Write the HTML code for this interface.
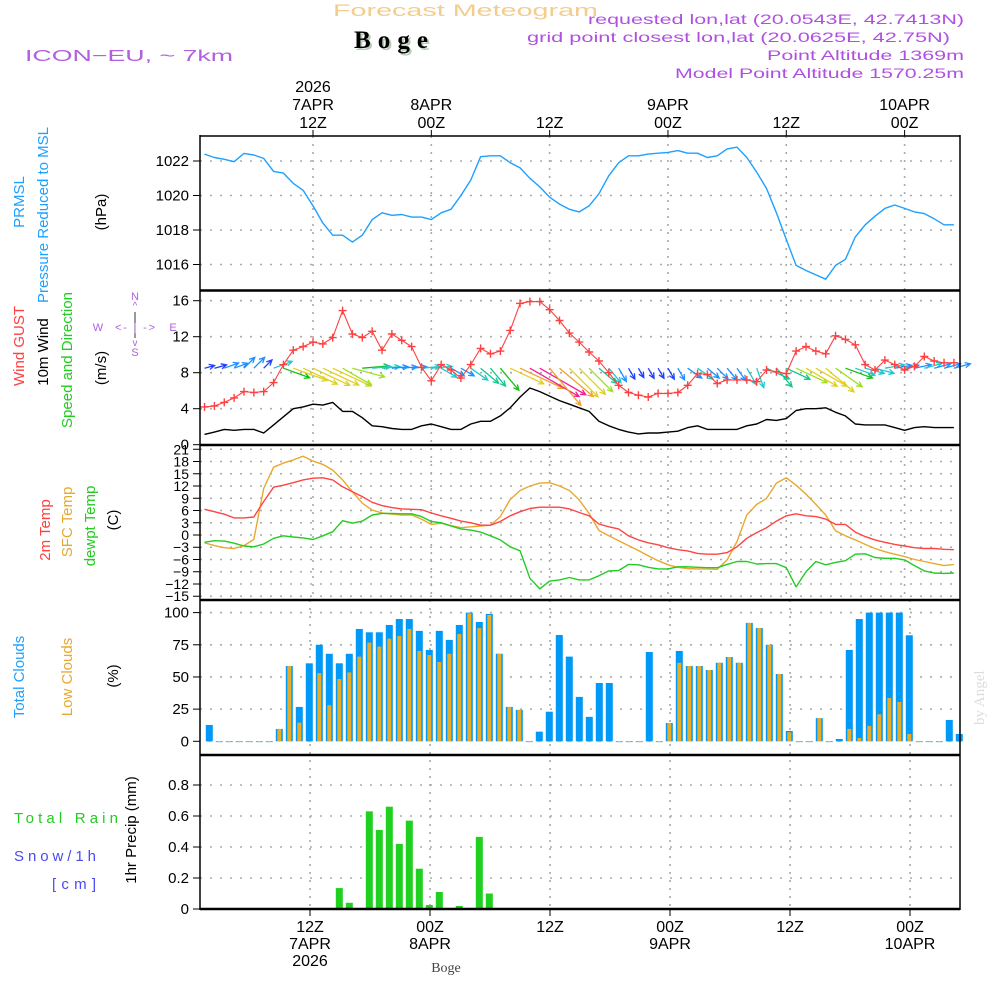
<!DOCTYPE html>
<html><head><meta charset="utf-8"><title>Forecast Meteogram Boge</title>
<style>
html,body{margin:0;padding:0;background:#fff;}
svg{display:block;font-family:"Liberation Sans","DejaVu Sans",sans-serif;}
</style></head>
<body>
<svg id="chart" xmlns="http://www.w3.org/2000/svg" width="1000" height="1000" viewBox="0 0 1000 1000">
<rect x="0" y="0" width="1000" height="1000" fill="#fff"/>
<text x="333" y="16" font-size="17" fill="#f3cd8c" textLength="265" lengthAdjust="spacingAndGlyphs">Forecast Meteogram</text>
<text x="356" y="50" font-size="25" font-weight="bold" font-family="Liberation Serif, serif" fill="#b8cdb8" textLength="74">Boge</text>
<text x="354" y="48" font-size="25" font-weight="bold" font-family="Liberation Serif, serif" fill="#000" textLength="74">Boge</text>
<text x="25" y="61" font-size="16" fill="#b060e0" textLength="208" lengthAdjust="spacingAndGlyphs">ICON−EU, ~ 7km</text>
<text x="588" y="24" font-size="14" fill="#b050e0" textLength="376" lengthAdjust="spacingAndGlyphs">requested lon,lat (20.0543E, 42.7413N)</text>
<text x="527" y="42" font-size="14" fill="#b050e0" textLength="423" lengthAdjust="spacingAndGlyphs">grid point closest lon,lat (20.0625E, 42.75N)</text>
<text x="767" y="60" font-size="14" fill="#b050e0" textLength="197" lengthAdjust="spacingAndGlyphs">Point Altitude 1369m</text>
<text x="675" y="78" font-size="14" fill="#b050e0" textLength="289" lengthAdjust="spacingAndGlyphs">Model Point Altitude 1570.25m</text>
<text transform="translate(984,725) rotate(-90)" font-size="15" font-family="Liberation Serif, serif" fill="#dcdcdc">by Angel</text>
<g id="g-grid"></g>
<g id="g-data"></g>
<g id="g-frame"></g>
<g id="g-labels"></g>
</svg>
<script>
// ===== DATA =====
const hours = [1,2,3,4,5,6,7,8,9,10,11,12,13,14,15,16,17,18,19,20,21,22,23,24,25,26,27,28,29,30,31,32,33,34,35,36,37,38,39,40,41,42,43,44,45,46,47,48,49,50,51,52,53,54,55,56,57,58,59,60,61,62,63,64,65,66,67,68,69,70,71,72,73,74,75,76,77];
const pressure = [1022.4,1022.2,1022.1,1021.96,1022.44,1022.35,1022.15,1021.4,1021.3,1020.7,1020.3,1019.4,1018.4,1017.7,1017.7,1017.3,1017.7,1018.6,1019.0,1018.85,1018.9,1018.75,1018.75,1018.6,1019.0,1019.2,1020.0,1020.9,1022.25,1022.3,1022.3,1021.9,1021.6,1021.0,1020.5,1019.9,1019.5,1019.2,1019.05,1019.4,1020.1,1021.15,1021.9,1022.3,1022.3,1022.4,1022.45,1022.5,1022.6,1022.45,1022.45,1022.2,1022.3,1022.7,1022.8,1022.2,1021.35,1020.4,1019.0,1017.45,1015.95,1015.65,1015.4,1015.15,1015.95,1016.3,1017.6,1018.3,1018.8,1019.25,1019.45,1019.25,1019.05,1018.95,1018.65,1018.3,1018.3];
const gust = [4.2,4.3,4.7,5.2,5.9,5.8,5.9,6.9,8.9,10.5,10.9,11.4,11.2,11.9,14.9,12.3,11.9,12.6,10.5,12.3,11.6,10.9,8.6,7.1,8.9,8.3,7.4,8.9,10.7,10.1,10.4,12.7,15.7,15.9,15.9,15.0,13.8,12.4,11.4,10.3,9.3,8.0,6.6,5.8,5.5,5.3,5.7,5.7,5.8,6.6,7.9,7.8,6.8,7.2,7.2,7.2,7.0,8.3,8.1,7.9,10.4,10.9,10.4,10.1,12.1,11.7,11.1,8.9,8.3,9.4,8.9,8.3,8.7,9.8,9.3,9.1,9.1];
const windSpeed = [1.15,1.4,1.7,1.6,1.7,1.7,1.3,2.2,3.1,4.0,4.2,4.5,4.4,4.7,3.7,3.7,3.0,2.1,2.0,1.8,1.7,1.7,2.1,2.3,2.0,1.7,1.7,2.3,2.6,2.6,3.2,4.1,5.3,6.3,5.9,5.4,4.9,4.5,4.1,3.7,2.6,2.1,1.7,1.4,1.2,1.3,1.3,1.4,1.5,1.9,2.1,1.7,1.7,1.7,1.7,2.1,2.3,2.8,2.7,2.9,3.8,4.0,4.0,4.1,3.6,3.2,2.3,2.2,2.2,2.2,1.9,1.6,1.9,2.0,1.9,1.9,1.9];
// screen angle the arrow points to (deg, 0 = east, positive = clockwise/down)
const windToAngle = [-15,-15,-20,-20,-45,-45,-45,-20,20,20,25,25,25,25,30,15,-5,-5,-5,-5,-5,-5,-5,-5,30,30,30,35,40,50,50,25,25,30,30,50,40,45,45,45,40,50,60,60,60,60,60,60,60,35,35,40,45,50,55,60,70,25,50,25,25,30,30,40,35,20,20,15,15,-10,-10,-12,-12,-15,-15,-15,-15];
const temp2m = [6.3,5.7,5.1,4.2,4.2,4.4,8.2,11.7,12.2,12.8,13.5,13.9,14.0,13.5,11.8,10.6,9.4,8.0,7.2,6.7,6.4,6.3,6.2,5.4,4.7,4.1,3.4,3.0,2.4,2.4,3.3,4.7,5.7,6.5,6.8,6.8,6.8,6.4,5.5,4.7,2.7,2.0,1.5,-0.2,-1.2,-1.9,-2.4,-3.1,-3.6,-3.9,-4.5,-4.7,-4.7,-4.3,-2.9,-0.8,0.6,1.8,3.4,4.7,5.2,4.7,4.5,3.9,2.6,2.6,0.7,-0.4,-1.2,-1.8,-2.3,-2.7,-3.1,-3.3,-3.3,-3.5,-3.6];
const tempSfc = [-1.9,-2.6,-3.1,-3.3,-2.6,-1.1,11.4,16.6,17.6,18.4,19.3,18.1,17.3,15.9,13.5,10.6,7.8,6.1,5.4,5.1,4.9,4.9,3.9,2.6,2.9,2.3,1.8,2.0,2.2,2.4,4.5,8.7,10.9,12.0,12.7,12.8,12.0,10.9,8.6,5.3,1.1,-0.2,-1.4,-2.6,-3.8,-5.1,-6.3,-7.3,-7.9,-8.2,-8.3,-8.3,-8.4,-6.1,-1.6,4.9,7.5,9.0,12.7,14.0,12.2,10.0,7.5,4.9,1.0,-0.2,-1.2,-2.3,-3.3,-4.1,-4.7,-5.3,-6.0,-6.5,-7.0,-7.5,-7.2];
const dewpoint = [-1.8,-1.4,-1.5,-2.0,-2.7,-2.9,-2.2,-0.8,-0.2,-0.5,-0.7,-1.1,-0.2,0.8,3.5,2.9,3.4,4.9,5.3,5.3,5.2,5.2,4.5,3.3,3.0,2.2,1.5,1.2,0.7,-0.2,-1.2,-2.9,-3.9,-10.6,-13.2,-11.3,-11.0,-10.4,-11.0,-11.0,-10.0,-8.8,-8.7,-7.2,-7.3,-7.9,-8.3,-8.3,-7.8,-7.8,-7.9,-8.0,-8.0,-7.2,-6.5,-6.5,-7.1,-7.0,-7.0,-8.0,-12.7,-9.0,-6.5,-7.3,-6.7,-6.3,-4.7,-4.6,-5.5,-5.7,-5.7,-6.1,-7.5,-8.8,-9.3,-9.4,-9.3];
const barSlots = [1,2,3,4,5,6,7,8,9,10,11,12,13,14,15,16,17,18,19,20,21,22,23,24,25,26,27,28,29,30,31,32,33,34,35,36,37,38,39,40,41,42,43,44,45,46,47,48,49,50,51,52,53,54,55,56,57,58,59,60,61,62,63,64,65,66,67,68,69,70,71,72,73,74,75,76];
const totalClouds = [12.7,0,0,0,0,0,0,9.6,58.5,26.7,60.6,75,68,60.6,68,87.3,84.7,84.7,90.4,95,95,85.8,71,85.8,78.8,90.4,100,92.7,99,68,26.7,24.4,0,7.5,23,82.6,65.8,34.5,19,45.3,45.3,0,0,0,69.4,0,14.2,70.2,58.5,58.5,55.4,61,65.5,61,92,88,75,52.3,8,0,0,18,0,1.8,71,95,100,100,100,100,82.4,0,0,0,16.6,5.7];
const lowClouds = [0,0,0,0,0,0,0,9.6,58.5,14.5,0,53,28,48.4,53.5,65.8,76.7,73.6,79.8,81.9,87.3,70.2,67,61.6,68,83.4,99.5,88.1,98.2,68,26.7,24.4,0,0,0,0,0,0,0,0,0,0,0,0,0,0,14.2,61,58.5,58.5,55.4,61,65.5,61,92,88,75,52.3,7,0,0,18,0,0,9.6,2.6,12,21,33.7,30.6,5.7,0,0,0,0,0];
const precip = [0,0,0,0,0,0,0,0,0,0,0,0,0,0.135,0.04,0.006,0.63,0.51,0.66,0.42,0.57,0.26,0.026,0.11,0.006,0.02,0.006,0.465,0.10,0,0,0,0,0,0,0,0,0,0,0,0,0,0,0,0,0,0,0,0,0,0,0,0,0,0,0,0,0,0,0,0,0,0,0,0,0,0,0,0,0,0,0,0,0,0,0];
const pressureTicks = [1016,1018,1020,1022];
const windTicks = [0,4,8,12,16];
const tempTicks = [21,18,15,12,9,6,3,0,-3,-6,-9,-12,-15];
const cloudTicks = [0,25,50,75,100];
const precipTicks = [0,0.2,0.4,0.6,0.8];
const topTimeLabels = [["2026","7APR","12Z"],["","8APR","00Z"],["","","12Z"],["","9APR","00Z"],["","","12Z"],["","10APR","00Z"]];
const topTimeHours = [12,24,36,48,60,72];
const bottomTimeLabels = [["12Z","7APR","2026"],["00Z","8APR",""],["12Z","",""],["00Z","9APR",""],["12Z","",""],["00Z","10APR",""]];
const bottomTimeSlots = [11,23,35,47,59,71];

// ===== AXES =====
const X0=200, X1=960;
const xL = h => 313 + (h-12)*9.86;          // line panels
const xB = n => 309.3 + (n-11)*10;          // bar panels
const pY = p => 161 + (1022-p)*17.25;
const wY = v => 300.7 + (16-v)*9;
const tY = t => 535 - t*4.083;
const cY = c => 741.3 - c*1.287;
const rY = r => 909 - r*155;

const NS='http://www.w3.org/2000/svg';
function mk(tag, parent, attrs){const e=document.createElementNS(NS,tag);for(const k in attrs)e.setAttribute(k,attrs[k]);parent.appendChild(e);return e;}
const gGrid=document.getElementById('g-grid'), gData=document.getElementById('g-data'), gFrame=document.getElementById('g-frame'), gLab=document.getElementById('g-labels');

function hgrid(y){const l=mk('line',gGrid,{x1:X0,x2:X1,y1:y,y2:y,stroke:'#aaa','stroke-width':1.6,'stroke-dasharray':'2,8'});

}
function vgrid(x,y1,y2){const l=mk('line',gGrid,{x1:x,x2:x,y1:y1,y2:y2,stroke:'#aaa','stroke-width':1.6,'stroke-dasharray':'2,6'});

}
pressureTicks.forEach(p=>hgrid(pY(p)));
windTicks.filter(v=>v>0).forEach(v=>hgrid(wY(v)));
tempTicks.forEach(t=>hgrid(tY(t)));
cloudTicks.filter(v=>v>0).forEach(v=>hgrid(cY(v)));
precipTicks.filter(v=>v>0).forEach(v=>hgrid(rY(v)));
topTimeHours.forEach(h=>vgrid(xL(h),136,600));
bottomTimeSlots.forEach(n=>vgrid(xB(n)+0.7,600,909));

function series(arr, yf, color, name, w){
  const d=arr.map((v,i)=>(i?'L':'M')+xL(hours[i]).toFixed(1)+' '+yf(v).toFixed(1)).join(' ');
  const p=mk('path',gData,{d:d,fill:'none',stroke:color,'stroke-width':w||1.4,'stroke-linejoin':'round'});
  
  
  return p;
}
series(pressure,pY,'#1ea0ff','pressure-line');
series(windSpeed,wY,'#000','wind-speed-line');

function speedColor(s){
  if(s<1.5) return '#2040ff';
  if(s<2.0) return '#1e90ff';
  if(s<2.5) return '#20c8d0';
  if(s<3.0) return '#10c890';
  if(s<3.5) return '#10c010';
  if(s<4.0) return '#a0e020';
  if(s<4.8) return '#e0d020';
  if(s<5.8) return '#f0a030';
  return '#f02090';
}
windSpeed.forEach((s,i)=>{
  const x=xL(hours[i]), y=wY(8.5);
  const a=windToAngle[i]*Math.PI/180, L=Math.max(10,s*9);
  const x2=x+L*Math.cos(a), y2=y+L*Math.sin(a);
  const hl=6, ha=0.45;
  const b1x=x2-hl*Math.cos(a-ha), b1y=y2-hl*Math.sin(a-ha);
  const b2x=x2-hl*Math.cos(a+ha), b2y=y2-hl*Math.sin(a+ha);
  const p=mk('path',gData,{d:`M${x} ${y}L${x2} ${y2}M${b1x} ${b1y}L${x2} ${y2}L${b2x} ${b2y}`,fill:'none',stroke:speedColor(s),'stroke-width':1.3});
  
  
});

series(gust,wY,'#ff4040','gust-line',1.1);
gust.forEach((g,i)=>{
  const x=xL(hours[i]), y=wY(g);
  const m=mk('path',gData,{d:`M${x-4} ${y}H${x+4}M${x} ${y-4}V${y+4}`,stroke:'#ff4040','stroke-width':1.4});
  
  
});

series(tempSfc,tY,'#e8a830','sfc-temp-line');
series(temp2m,tY,'#ff4444','temp-2m-line');
series(dewpoint,tY,'#22cc22','dewpoint-line');

totalClouds.forEach((c,i)=>{
  const x=xB(barSlots[i]);
  const b=mk('rect',gData,{x:x-3.5,y:cY(c),width:7,height:Math.max(0.8,cY(0)-cY(c)),fill:'#0099f5'});
  
  
  const lc=lowClouds[i];
  const o=mk('rect',gData,{x:x-2,y:cY(lc),width:4,height:Math.max(0.8,cY(0)-cY(lc)),fill:'#e6ac2a'});
  
  
});
precip.forEach((r,i)=>{
  if(r<=0) return;
  const x=xB(barSlots[i]);
  const b=mk('rect',gData,{x:x-3.5,y:rY(r),width:7,height:rY(0)-rY(r),fill:'#20d020'});
  
  
});

function fl(x1,y1,x2,y2,w,name){const l=mk('line',gFrame,{x1:x1,y1:y1,x2:x2,y2:y2,stroke:'#000','stroke-width':w});

}
fl(X0,136,X1,136,1.5,'frame-top');
fl(X0,135,X0,910,1.5,'frame-left');
fl(X1,135,X1,910,1.5,'frame-right');
[290.5,445,600,755].forEach(y=>fl(X0,y,X1,y,2.5,'panel-separator'));
fl(X0,909,X1,909,2.5,'precip-baseline');

function ytick(y,label,name,fs){
  fl(193,y,X0,y,1,'y-tick');
  const t=mk('text',gLab,{x:189,y:y+5,'font-size':fs||15,'text-anchor':'end',fill:'#000'});
  t.textContent=label;
  
  
}
pressureTicks.forEach(p=>ytick(pY(p),String(p),'pressure-tick-label'));
windTicks.forEach(v=>ytick(wY(v),String(v),'wind-tick-label'));
tempTicks.forEach(t=>ytick(tY(t),t<0?'−'+(-t):String(t),'temp-tick-label',14));
cloudTicks.forEach(c=>ytick(cY(c),String(c),'cloud-tick-label'));
precipTicks.forEach(r=>ytick(rY(r),r===0?'0':r.toFixed(1),'precip-tick-label'));

function txt(x,y,s,name,opts){
  const t=mk('text',gLab,Object.assign({x:x,y:y,'font-size':16,'text-anchor':'middle',fill:'#000'},opts||{}));
  t.textContent=s;
  
  
  return t;
}
topTimeHours.forEach((h,i)=>{
  const x=xL(h);
  fl(x,136,x,130,1,'top-time-tick');
  const L=topTimeLabels[i];
  if(L[0]) txt(x,92,L[0],'top-year-label');
  if(L[1]) txt(x,110,L[1],'top-date-label');
  txt(x,128,L[2],'top-hour-label');
});
bottomTimeSlots.forEach((n,i)=>{
  const x=xB(n)+0.7;
  fl(x,909,x,916,1,'bottom-time-tick');
  const L=bottomTimeLabels[i];
  txt(x,932,L[0],'bottom-hour-label');
  if(L[1]) txt(x,949,L[1],'bottom-date-label');
  if(L[2]) txt(x,966,L[2],'bottom-year-label');
});
txt(446,972,'Boge','x-axis-title',{'font-size':14,'font-family':'Liberation Serif, serif',fill:'#444'});

function rot(x,y,s,color,name,fs){
  const t=mk('text',gLab,{transform:`translate(${x},${y}) rotate(-90)`,'font-size':fs||15,'text-anchor':'middle',fill:color});
  t.textContent=s;
  
  
}
rot(24,202,'PRMSL','#1ea0ff','prmsl-title');
rot(48,215,'Pressure Reduced to MSL','#1ea0ff','pressure-title');
rot(106,212,'(hPa)','#000','pressure-unit');
rot(24,346,'Wind GUST','#ff4040','gust-title');
rot(48,352,'10m Wind','#000','wind-title');
rot(72,360,'Speed and Direction','#22cc22','wind-dir-title');
rot(106,368,'(m/s)','#000','wind-unit');
rot(50,530,'2m Temp','#ff4040','temp-2m-title');
rot(72,522,'SFC Temp','#e8a830','sfc-temp-title');
rot(95,526,'dewpt Temp','#22cc22','dewpoint-title');
rot(118,520,'(C)','#000','temp-unit');
rot(24,677,'Total Clouds','#1ea0ff','total-clouds-title');
rot(72,677,'Low Clouds','#e8a830','low-clouds-title');
rot(118,676,'(%)','#000','cloud-unit');
rot(136,830,'1hr Precip (mm)','#000','precip-title');
txt(14,823,'Total   Rain','rain-legend',{'text-anchor':'start','font-size':15,fill:'#22cc22',textLength:104});
txt(14,861,'Snow/1h','snow-legend',{'text-anchor':'start','font-size':15,fill:'#4a4af0',textLength:82});
txt(52,889,'[cm]','snow-unit',{'text-anchor':'start','font-size':15,fill:'#4a4af0',textLength:44});

const cc='#b060e0';
txt(135,300,'N','compass-n',{'font-size':11,fill:cc});
txt(135,309,'^','compass-up',{'font-size':10,fill:cc});
txt(98,331,'W','compass-w',{'font-size':11,fill:cc});
txt(135,331,'<- | ->','compass-arrows',{'font-size':11,fill:cc,textLength:40});
txt(173,331,'E','compass-e',{'font-size':11,fill:cc});
txt(135,346,'v','compass-down',{'font-size':10,fill:cc});
txt(135,356,'S','compass-s',{'font-size':11,fill:cc});
fl(135,312,135,338,0.8,'compass-stem');
</script>
</body></html>
